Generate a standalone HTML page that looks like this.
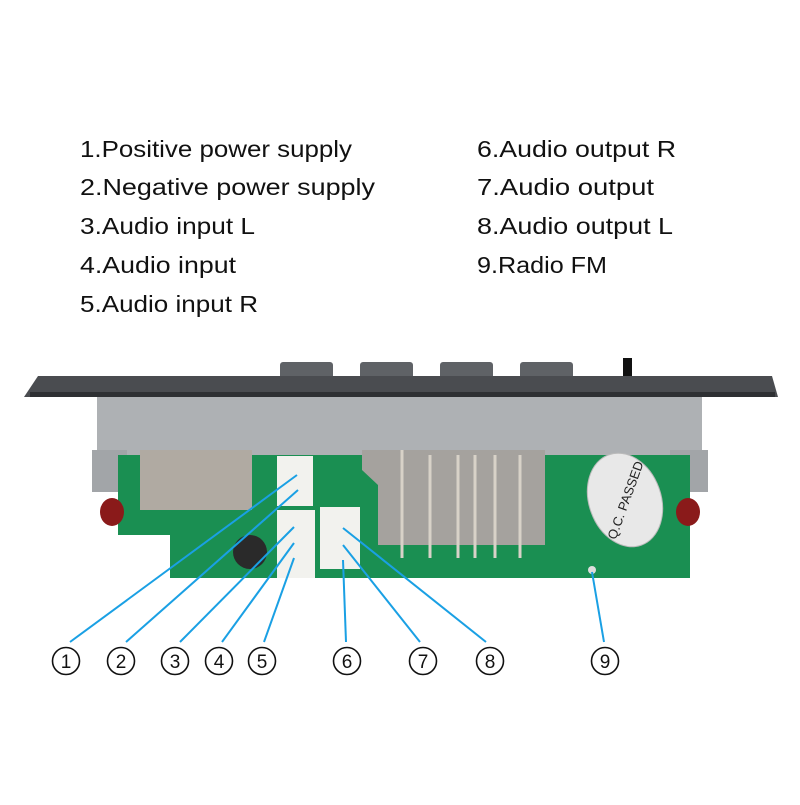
<!DOCTYPE html>
<html><head><style>
body{margin:0;background:#fff;width:800px;height:800px;overflow:hidden;font-family:"Liberation Sans",sans-serif}
</style></head><body>
<svg width="800" height="800" viewBox="0 0 800 800" xmlns="http://www.w3.org/2000/svg">
<rect width="800" height="800" fill="#fff"/>
<g font-family="Liberation Sans, sans-serif" font-size="23" fill="#111" lengthAdjust="spacingAndGlyphs">
<text x="80" y="157" textLength="272" lengthAdjust="spacingAndGlyphs">1.Positive power supply</text>
<text x="80" y="195" textLength="295" lengthAdjust="spacingAndGlyphs">2.Negative power supply</text>
<text x="80" y="234" textLength="175" lengthAdjust="spacingAndGlyphs">3.Audio input L</text>
<text x="80" y="273" textLength="156" lengthAdjust="spacingAndGlyphs">4.Audio input</text>
<text x="80" y="312" textLength="178" lengthAdjust="spacingAndGlyphs">5.Audio input R</text>
<text x="477" y="157" textLength="199" lengthAdjust="spacingAndGlyphs">6.Audio output R</text>
<text x="477" y="195" textLength="177" lengthAdjust="spacingAndGlyphs">7.Audio output</text>
<text x="477" y="234" textLength="196" lengthAdjust="spacingAndGlyphs">8.Audio output L</text>
<text x="477" y="273" textLength="130" lengthAdjust="spacingAndGlyphs">9.Radio FM</text>
</g>
<!-- buttons -->
<g fill="#5f6266">
<rect x="280" y="362" width="53" height="17" rx="3"/>
<rect x="360" y="362" width="53" height="17" rx="3"/>
<rect x="440" y="362" width="53" height="17" rx="3"/>
<rect x="520" y="362" width="53" height="17" rx="3"/>
</g>
<rect x="623" y="358" width="9" height="22" fill="#111"/>
<!-- front panel -->
<polygon points="38,376 772,376 778,397 24,397" fill="#4a4c50"/>
<rect x="30" y="392" width="745" height="5" fill="#2e3033"/>
<!-- housing -->
<rect x="97" y="397" width="605" height="60" fill="#aeb1b4"/>
<rect x="92" y="450" width="35" height="42" fill="#a2a5a8"/>
<rect x="670" y="450" width="38" height="42" fill="#a2a5a8"/>
<!-- pcb -->
<polygon points="118,455 690,455 690,578 170,578 170,535 118,535" fill="#1a8f52"/>
<!-- red knobs -->
<ellipse cx="112" cy="512" rx="12" ry="14" fill="#8a1a1a"/>
<ellipse cx="688" cy="512" rx="12" ry="14" fill="#8a1a1a"/>
<!-- usb -->
<rect x="140" y="450" width="112" height="60" fill="#b0aaa2"/>
<!-- cap -->
<circle cx="250" cy="552" r="17" fill="#2a2a2a"/>
<!-- connectors -->
<rect x="277" y="456" width="36" height="50" fill="#f2f2ee"/>
<rect x="277" y="510" width="38" height="68" fill="#f2f2ee"/>
<rect x="320" y="507" width="40" height="62" fill="#f2f2ee"/>
<!-- sd / metal -->
<polygon points="362,450 545,450 545,545 378,545 378,485 362,470" fill="#a5a29e"/>
<g stroke="#d8d2c8" stroke-width="3">
<line x1="402" y1="450" x2="402" y2="558"/><line x1="430" y1="455" x2="430" y2="558"/>
<line x1="458" y1="455" x2="458" y2="558"/><line x1="475" y1="455" x2="475" y2="558"/>
<line x1="495" y1="455" x2="495" y2="558"/><line x1="520" y1="455" x2="520" y2="558"/>
</g>
<!-- QC sticker -->
<ellipse cx="625" cy="500" rx="36" ry="48" transform="rotate(-20 625 500)" fill="#e8e8e8" stroke="#bbb"/>
<text x="625" y="505" font-size="13" text-anchor="middle" fill="#222" transform="rotate(-70 625 500)">Q.C. PASSED</text>
<circle cx="592" cy="570" r="4" fill="#ddd"/>
<!-- leader lines -->
<g stroke="#1aa0e4" stroke-width="2">
<line x1="297" y1="475" x2="70" y2="642"/>
<line x1="298" y1="490" x2="126" y2="642"/>
<line x1="294" y1="527" x2="180" y2="642"/>
<line x1="294" y1="543" x2="222" y2="642"/>
<line x1="294" y1="558" x2="264" y2="642"/>
<line x1="343" y1="560" x2="346" y2="642"/>
<line x1="343" y1="545" x2="420" y2="642"/>
<line x1="343" y1="528" x2="486" y2="642"/>
<line x1="592" y1="572" x2="604" y2="642"/>
</g>
<g fill="none" stroke="#111" stroke-width="1.6">
<circle cx="66" cy="661" r="13.5"/><circle cx="121" cy="661" r="13.5"/><circle cx="175" cy="661" r="13.5"/>
<circle cx="219" cy="661" r="13.5"/><circle cx="262" cy="661" r="13.5"/><circle cx="347" cy="661" r="13.5"/>
<circle cx="423" cy="661" r="13.5"/><circle cx="490" cy="661" r="13.5"/><circle cx="605" cy="661" r="13.5"/>
</g>
<g font-size="19" text-anchor="middle" fill="#111">
<text x="66" y="668">1</text><text x="121" y="668">2</text><text x="175" y="668">3</text>
<text x="219" y="668">4</text><text x="262" y="668">5</text><text x="347" y="668">6</text>
<text x="423" y="668">7</text><text x="490" y="668">8</text><text x="605" y="668">9</text>
</g>
</svg>
</body></html>
